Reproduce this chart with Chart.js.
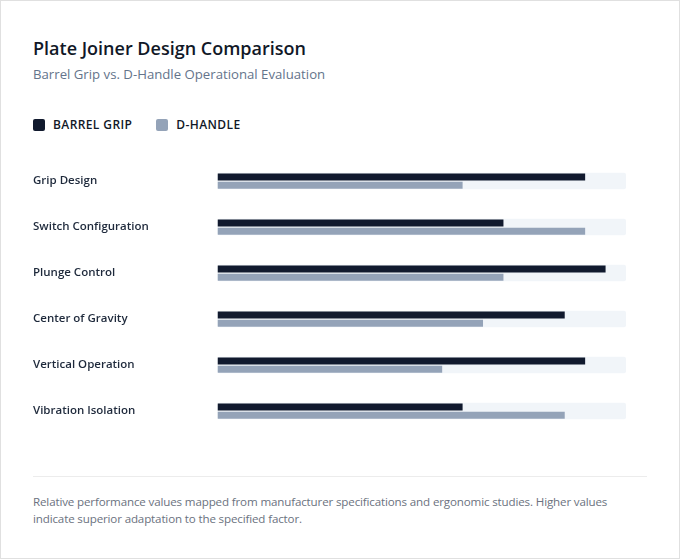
<!DOCTYPE html>
<html>
<head>
<meta charset="utf-8">
<script src="https://cdn.jsdelivr.net/npm/chart.js@4/dist/chart.umd.min.js"></script>
<style>
  html, body { margin: 0; padding: 0; background: #ffffff; }
  body { width: 680px; height: 559px; overflow: hidden; font-family: "Open Sans", "Noto Sans", sans-serif; }
  .card { position: relative; width: 680px; height: 559px; box-sizing: border-box; border: 1px solid #e0e0e0; background: #fff; }
  .title { position: absolute; left: 32px; top: 35px; font-size: 18px; line-height: 24px; font-weight: 600; color: #111827; margin: 0; }
  .subtitle { position: absolute; left: 32px; top: 64px; font-size: 13.2px; line-height: 18px; color: #64748b; margin: 0; }
  .legend { position: absolute; left: 32px; top: 115px; display: flex; align-items: center; font-size: 12px; font-weight: 600; letter-spacing: 0.4px; color: #111827; }
  .legend .item { display: flex; align-items: center; margin-right: 24px; }
  .legend .sw { width: 12px; height: 12px; border-radius: 2px; margin-right: 8px; }
  .chartbox { position: absolute; left: 32px; top: 156.5px; width: 593px; height: 276px; }
  .divider { position: absolute; left: 32px; top: 475px; width: 614px; height: 1px; background: #ececec; }
  .footer { position: absolute; left: 32px; top: 492px; width: 614px; font-size: 11.6px; letter-spacing: -0.15px; line-height: 17px; color: #6b7280; margin: 0; }
</style>
</head>
<body>
<div class="card">
  <h1 class="title">Plate Joiner Design Comparison</h1>
  <p class="subtitle">Barrel Grip vs. D-Handle Operational Evaluation</p>
  <div class="legend" id="legend"></div>
  <div class="chartbox"><canvas id="chart"></canvas></div>
  <div class="divider"></div>
  <p class="footer">Relative performance values mapped from manufacturer specifications and ergonomic studies. Higher values indicate superior adaptation to the specified factor.</p>
</div>
<script>
const categories = ["Grip Design", "Switch Configuration", "Plunge Control", "Center of Gravity", "Vertical Operation", "Vibration Isolation"];
const seriesNames = ["Barrel Grip", "D-Handle"];
const barrelGrip = [90, 70, 95, 85, 90, 60];
const dHandle = [60, 90, 70, 65, 55, 85];
const scaleMax = 100;
const colors = ["#111a2e", "#94a3b8"];
const trackColor = "#f1f5f9";

// HTML legend
const legendEl = document.getElementById("legend");
seriesNames.forEach((name, i) => {
  const item = document.createElement("div");
  item.className = "item";
  const sw = document.createElement("span");
  sw.className = "sw";
  sw.style.background = colors[i];
  const label = document.createElement("span");
  label.textContent = name.toUpperCase();
  item.appendChild(sw);
  item.appendChild(label);
  legendEl.appendChild(item);
});

const CAT_PCT = 16.5 / 46;
const BAR_PCT = 7 / 8.25;

const trackPlugin = {
  id: "track",
  beforeDatasetsDraw(chart) {
    const { ctx, scales: { x, y } } = chart;
    const x0 = x.getPixelForValue(0);
    const x1 = x.getPixelForValue(scaleMax);
    const band = (y.getPixelForValue(1) - y.getPixelForValue(0)) * CAT_PCT;
    ctx.save();
    ctx.fillStyle = trackColor;
    categories.forEach((c, i) => {
      const cy = y.getPixelForValue(i);
      ctx.beginPath();
      ctx.roundRect(x0, cy - band / 2, x1 - x0, band, 2);
      ctx.fill();
    });
    ctx.restore();
  }
};

new Chart(document.getElementById("chart"), {
  type: "bar",
  data: {
    labels: categories,
    datasets: [
      { label: seriesNames[0], data: barrelGrip, backgroundColor: colors[0], borderWidth: 0, categoryPercentage: CAT_PCT, barPercentage: BAR_PCT },
      { label: seriesNames[1], data: dHandle, backgroundColor: colors[1], borderWidth: 0, categoryPercentage: CAT_PCT, barPercentage: BAR_PCT }
    ]
  },
  options: {
    indexAxis: "y",
    responsive: true,
    maintainAspectRatio: false,
    animation: false,
    layout: { padding: 0 },
    plugins: { legend: { display: false }, tooltip: { enabled: true }, title: { display: false } },
    scales: {
      x: { display: false, min: 0, max: scaleMax },
      y: {
        grid: { display: false, drawTicks: false },
        border: { display: false },
        ticks: {
          crossAlign: "far",
          padding: 0,
          color: "#1e293b",
          font: { family: "'Open Sans', 'Noto Sans', sans-serif", size: 11.5, weight: 600 }
        },
        afterFit(scale) {
          scale.width = 184.5;
          scale.paddingTop = 0;
          scale.paddingBottom = 0;
        }
      }
    }
  },
  plugins: [trackPlugin]
});
</script>
</body>
</html>
